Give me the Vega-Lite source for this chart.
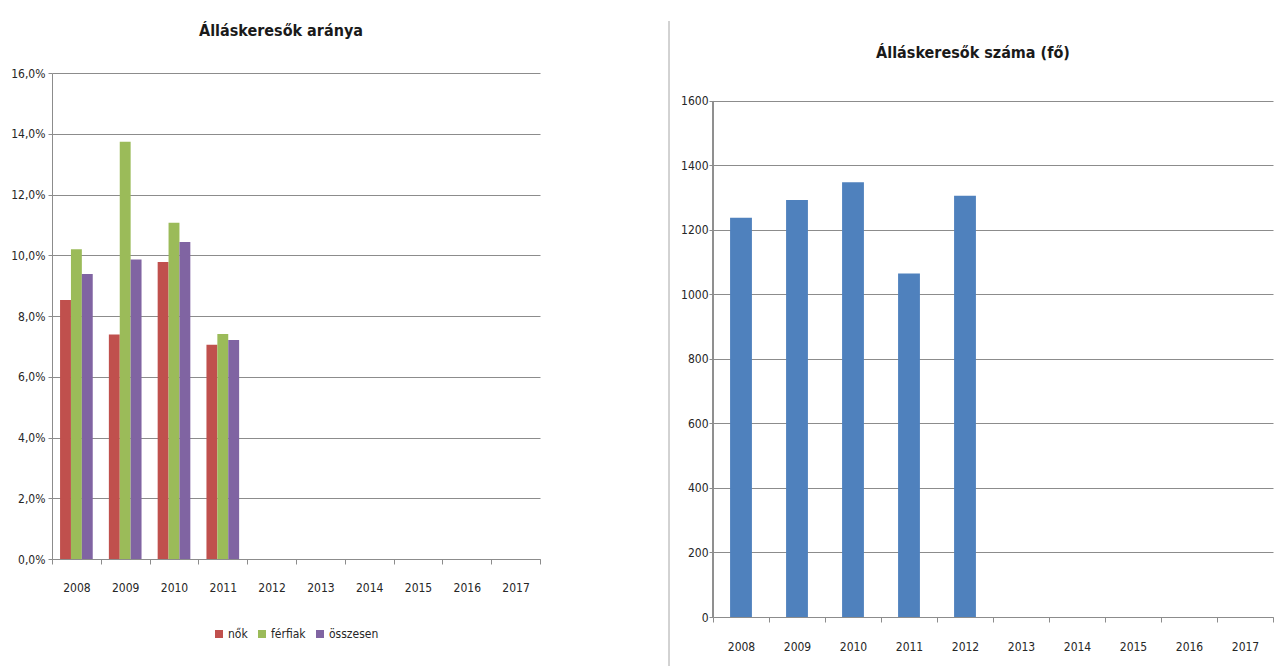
{
  "$schema": "https://vega.github.io/schema/vega-lite/v6.json",
  "background": "white",
  "padding": {"left": 10, "top": 20, "right": 2, "bottom": 0},
  "spacing": 10,
  "resolve": {"legend": {"color": "independent"}, "scale": {"color": "independent"}},
  "hconcat": [
    {
      "width": 488,
      "height": 486,
      "data": {"values": [
        {"ev": "2008", "nem": "nők", "arany": 0.0853},
        {"ev": "2008", "nem": "férfiak", "arany": 0.102},
        {"ev": "2008", "nem": "összesen", "arany": 0.0938},
        {"ev": "2009", "nem": "nők", "arany": 0.0739},
        {"ev": "2009", "nem": "férfiak", "arany": 0.1374},
        {"ev": "2009", "nem": "összesen", "arany": 0.0986},
        {"ev": "2010", "nem": "nők", "arany": 0.0978},
        {"ev": "2010", "nem": "férfiak", "arany": 0.1107},
        {"ev": "2010", "nem": "összesen", "arany": 0.1044},
        {"ev": "2011", "nem": "nők", "arany": 0.0705},
        {"ev": "2011", "nem": "férfiak", "arany": 0.0741},
        {"ev": "2011", "nem": "összesen", "arany": 0.0721}
      ]},
      "title": {"text": "Álláskeresők aránya", "offset": 28, "dx": -15},
      "mark": {"type": "bar"},
      "encoding": {
        "x": {
          "field": "ev", "type": "nominal",
          "scale": {"domain": ["2008","2009","2010","2011","2012","2013","2014","2015","2016","2017"], "paddingInner": 0, "paddingOuter": 0},
          "axis": {"title": null, "labelAngle": 0, "tickBand": "extent", "tickSize": 5, "labelPadding": 18, "grid": false}
        },
        "xOffset": {
          "field": "nem", "type": "nominal", "sort": ["nők", "férfiak", "összesen"],
          "scale": {"paddingOuter": 0.74, "paddingInner": 0}
        },
        "y": {
          "field": "arany", "type": "quantitative",
          "scale": {"domain": [0, 0.16]},
          "axis": {"title": null, "format": ".1%", "values": [0, 0.02, 0.04, 0.06, 0.08, 0.1, 0.12, 0.14, 0.16], "tickSize": 4, "labelPadding": 3, "grid": true}
        },
        "color": {
          "field": "nem", "type": "nominal",
          "scale": {"domain": ["nők", "férfiak", "összesen"], "range": ["#C0504D", "#9BBB59", "#8064A2"]},
          "legend": {"title": null, "orient": "bottom", "direction": "horizontal", "symbolType": "square", "symbolSize": 64, "symbolStrokeWidth": 0, "labelOffset": 3, "columnPadding": 8, "offset": 35, "labelFontSize": 12}
        }
      }
    },
    {
      "width": 118,
      "height": 594,
      "data": {"values": [{"x": 1, "y0": 0, "y1": 1.0875}]},
      "mark": {"type": "rule", "color": "#a6a6a6", "strokeWidth": 1},
      "encoding": {
        "x": {"field": "x", "type": "quantitative", "scale": {"domain": [0, 1]}, "axis": null},
        "y": {"field": "y0", "type": "quantitative", "scale": {"domain": [0, 1]}, "axis": null},
        "y2": {"field": "y1"}
      }
    },
    {
      "width": 560,
      "height": 544,
      "title": {"text": "Álláskeresők száma (fő)", "offset": 12, "dx": -20},
      "data": {"values": [
        {"ev": "2008", "fo": 1238},
        {"ev": "2009", "fo": 1293},
        {"ev": "2010", "fo": 1348},
        {"ev": "2011", "fo": 1065},
        {"ev": "2012", "fo": 1306}
      ]},
      "layer": [
        {
          "mark": {"type": "bar", "color": "#4F81BD", "width": {"band": 0.39}},
          "encoding": {
            "x": {
              "field": "ev", "type": "nominal",
              "scale": {"domain": ["2008","2009","2010","2011","2012","2013","2014","2015","2016","2017"], "paddingInner": 0, "paddingOuter": 0},
              "axis": {"title": null, "labelAngle": 0, "tickBand": "extent", "tickSize": 5, "labelPadding": 19, "grid": false}
            },
            "y": {
              "field": "fo", "type": "quantitative",
              "scale": {"domain": [0, 1686.8], "nice": false},
              "axis": {"title": null, "format": "d", "values": [0, 200, 400, 600, 800, 1000, 1200, 1400, 1600], "tickSize": 4, "labelPadding": 1, "grid": true, "domain": false}
            }
          }
        },
        {
          "mark": {"type": "rule", "color": "#8c8c8c", "strokeWidth": 1},
          "encoding": {
            "x": {"datum": "2008", "type": "nominal", "bandPosition": 0},
            "y": {"datum": 0, "type": "quantitative"},
            "y2": {"datum": 1600}
          }
        }
      ]
    }
  ],
  "config": {
    "view": {"stroke": null},
    "locale": {"number": {"decimal": ",", "thousands": " ", "grouping": [3], "currency": ["", " Ft"]}},
    "font": "DejaVu Sans Condensed",
    "axis": {
      "labelFont": "DejaVu Sans Condensed",
      "labelFontSize": 12,
      "labelColor": "#262626",
      "domainColor": "#8c8c8c",
      "tickColor": "#8c8c8c",
      "gridColor": "#8c8c8c",
      "gridOpacity": 1,
      "domainWidth": 1,
      "gridWidth": 1
    },
    "legend": {"labelFont": "DejaVu Sans Condensed", "labelColor": "#262626", "layout": {"bottom": {"anchor": "middle"}}},
    "title": {"font": "DejaVu Sans Condensed", "fontSize": 16, "fontWeight": "bold", "color": "#1a1a1a", "anchor": "middle"}
  }
}
